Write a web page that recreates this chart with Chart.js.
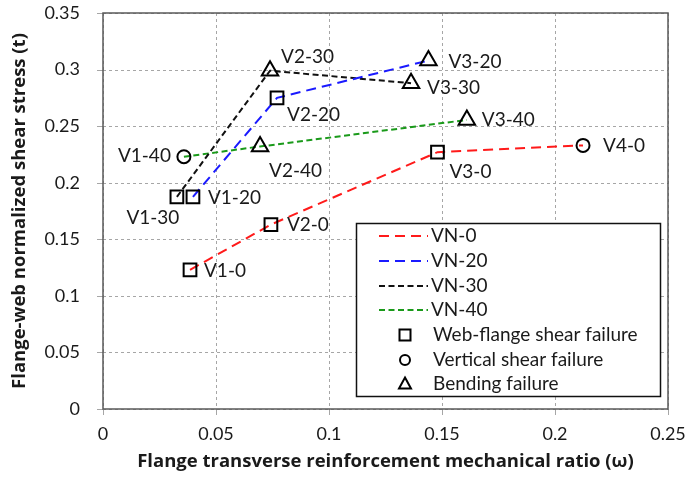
<!DOCTYPE html>
<html>
<head>
<meta charset="utf-8">
<script src="https://cdn.jsdelivr.net/npm/chart.js@4.4.0/dist/chart.umd.min.js"></script>
<style>
  body { margin: 0; background: #fff; }
  #wrap { width: 689px; height: 484px; }
</style>
</head>
<body>
<div id="wrap"><canvas id="mycanvas"></canvas></div>
<script>
// values
var seriesNames = ['VN-0', 'VN-20', 'VN-30', 'VN-40'];

var vn0_x = [0.0385, 0.0743, 0.1480, 0.2124];
var vn0_y = [0.123, 0.163, 0.227, 0.233];
var vn0_mode = ['web', 'web', 'web', 'vertical'];
var vn0_names = ['V1-0', 'V2-0', 'V3-0', 'V4-0'];

var vn20_x = [0.0398, 0.0770, 0.1440];
var vn20_y = [0.1875, 0.275, 0.308];
var vn20_mode = ['web', 'web', 'bending'];
var vn20_names = ['V1-20', 'V2-20', 'V3-20'];

var vn30_x = [0.0327, 0.0739, 0.1363];
var vn30_y = [0.1875, 0.299, 0.288];
var vn30_mode = ['web', 'bending', 'bending'];
var vn30_names = ['V1-30', 'V2-30', 'V3-30'];

var vn40_x = [0.0358, 0.0695, 0.1610];
var vn40_y = [0.223, 0.232, 0.2555];
var vn40_mode = ['vertical', 'bending', 'bending'];
var vn40_names = ['V1-40', 'V2-40', 'V3-40'];

var failureModes = ['web', 'vertical', 'bending'];
var failureLabels = ['Web-flange shear failure', 'Vertical shear failure', 'Bending failure'];

var xMin = 0, xMax = 0.25, xStep = 0.05;
var yMin = 0, yMax = 0.35, yStep = 0.05;

var FONT = 'Lato, "Open Sans", sans-serif';
var TITLE_FONT = '"Open Sans", Lato, sans-serif';

// looks
var lineColors = ['#ff1a1a', '#1a1aff', '#111111', '#1a9a1a'];
var lineDashes = [[10, 6], [10, 6], [6, 3.5], [6, 3.5]];
var markerStyle = { web: 'rect', vertical: 'circle', bending: 'triangle' };
var markerRadius = { web: 9, vertical: 6.5, bending: 9.5 };

// where each point's name sits relative to its marker
var labelPos = {
  'V1-0': [14, 1, 'left'],
  'V2-0': [16, 0, 'left'],
  'V3-0': [12, 20, 'left'],
  'V4-0': [20, 0, 'left'],
  'V1-20': [15, 1, 'left'],
  'V2-20': [10, 17, 'left'],
  'V3-20': [20, 1, 'left'],
  'V1-30': [-24, 21, 'center'],
  'V2-30': [11, -14, 'left'],
  'V3-30': [16, 5, 'left'],
  'V1-40': [-13, -1, 'right'],
  'V2-40': [9, 24, 'left'],
  'V3-40': [15, 0, 'left']
};

function toPoints(xs, ys) {
  var pts = [];
  for (var i = 0; i < xs.length; i++) pts.push({ x: xs[i], y: ys[i] });
  return pts;
}

function makeSet(idx, xs, ys, modes, names) {
  return {
    label: seriesNames[idx],
    data: toPoints(xs, ys),
    names: names,
    showLine: true,
    fill: false,
    borderColor: lineColors[idx],
    borderWidth: 2,
    borderDash: lineDashes[idx],
    pointStyle: modes.map(function (m) { return markerStyle[m]; }),
    pointRadius: modes.map(function (m) { return markerRadius[m]; }),
    pointBorderColor: '#000',
    pointBackgroundColor: 'rgba(0,0,0,0)',
    pointBorderWidth: 2
  };
}

// small marker for the legend box
function legendMarker(c, kind, x, y) {
  c.beginPath();
  if (kind === 'web') {
    c.rect(x - 5.5, y - 5.5, 11, 11);
  } else if (kind === 'vertical') {
    c.arc(x, y, 5, 0, Math.PI * 2);
  } else {
    c.moveTo(x, y - 6.5);
    c.lineTo(x + 6, y + 4.5);
    c.lineTo(x - 6, y + 4.5);
    c.closePath();
  }
  c.stroke();
}

// dashed grid + little tick marks, placed through the chart's scales
function drawGrid(chart) {
  var c = chart.ctx;
  var a = chart.chartArea;
  var sx = chart.scales.x, sy = chart.scales.y;
  c.save();
  c.strokeStyle = '#a6a6a6';
  c.lineWidth = 1;
  for (var i = 0; i < sx.ticks.length; i++) {
    var px = Math.round(sx.getPixelForValue(sx.ticks[i].value)) + 0.5;
    c.setLineDash([3, 3]);
    c.beginPath(); c.moveTo(px, a.top); c.lineTo(px, a.bottom); c.stroke();
    c.setLineDash([]);
    c.beginPath(); c.moveTo(px, a.bottom); c.lineTo(px, a.bottom + 6); c.stroke();
  }
  for (var j = 0; j < sy.ticks.length; j++) {
    var py = Math.round(sy.getPixelForValue(sy.ticks[j].value)) + 0.5;
    c.setLineDash([3, 3]);
    c.beginPath(); c.moveTo(a.left, py); c.lineTo(a.right, py); c.stroke();
    c.setLineDash([]);
    c.beginPath(); c.moveTo(a.left - 6, py); c.lineTo(a.left, py); c.stroke();
  }
  c.restore();
}

var gridLines = {
  id: 'gridLines',
  beforeDatasetsDraw: function (chart) { drawGrid(chart); }
};

var frameAndLabels = {
  id: 'frameAndLabels',
  afterDatasetsDraw: function (chart) {
    var c = chart.ctx;
    var a = chart.chartArea;
    c.save();
    // plot frame
    c.strokeStyle = '#595959';
    c.lineWidth = 1.5;
    c.setLineDash([]);
    c.strokeRect(a.left, a.top, a.right - a.left, a.bottom - a.top);

    // point names
    c.font = '19px ' + FONT;
    c.fillStyle = '#1a1a1a';
    c.textBaseline = 'middle';
    chart.data.datasets.forEach(function (ds, di) {
      var meta = chart.getDatasetMeta(di);
      meta.data.forEach(function (el, i) {
        var nm = ds.names[i];
        var p = labelPos[nm];
        c.textAlign = p[2];
        c.fillText(nm, el.x + p[0], el.y + p[1]);
      });
    });

    // legend box
    var bx = 356.5, by = 223.5, bw = 304, bh = 173;
    c.fillStyle = '#fff';
    c.fillRect(bx, by, bw, bh);
    c.strokeStyle = '#111';
    c.lineWidth = 1.5;
    c.strokeRect(bx, by, bw, bh);

    var rowY = [236, 261, 286, 310, 335, 360, 384];
    c.textAlign = 'left';
    for (var k = 0; k < seriesNames.length; k++) {
      c.beginPath();
      c.strokeStyle = lineColors[k];
      c.lineWidth = 2;
      c.setLineDash(lineDashes[k]);
      c.moveTo(379, rowY[k]);
      c.lineTo(428, rowY[k]);
      c.stroke();
      c.fillStyle = '#1a1a1a';
      c.fillText(seriesNames[k], 431, rowY[k]);
    }
    c.setLineDash([]);
    for (var j = 0; j < failureModes.length; j++) {
      c.strokeStyle = '#000';
      c.lineWidth = 2;
      legendMarker(c, failureModes[j], 405, rowY[4 + j]);
      c.fillStyle = '#1a1a1a';
      c.fillText(failureLabels[j], 433, rowY[4 + j]);
    }
    c.restore();
  }
};

function tickText(v) { return String(Math.round(v * 100) / 100); }

var ctx = document.getElementById('mycanvas');

var graph = new Chart(ctx, {
  type: 'scatter',
  data: {
    datasets: [
      makeSet(0, vn0_x, vn0_y, vn0_mode, vn0_names),
      makeSet(1, vn20_x, vn20_y, vn20_mode, vn20_names),
      makeSet(2, vn30_x, vn30_y, vn30_mode, vn30_names),
      makeSet(3, vn40_x, vn40_y, vn40_mode, vn40_names)
    ]
  },
  plugins: [gridLines, frameAndLabels],
  options: {
    responsive: true,
    maintainAspectRatio: false,
    animation: false,
    layout: { padding: { top: 13, right: 21, left: 0, bottom: 0 } },
    plugins: {
      legend: { display: false },
      tooltip: { enabled: false }
    },
    scales: {
      x: {
        type: 'linear',
        min: xMin,
        max: xMax,
        afterFit: function (s) { s.height = 75; s.paddingLeft = 0; s.paddingRight = 0; },
        ticks: {
          stepSize: xStep,
          color: '#1a1a1a',
          font: { family: FONT, size: 18 },
          padding: 8,
          maxRotation: 0,
          callback: tickText
        },
        grid: { display: false, drawTicks: true, tickLength: 6 },
        border: { display: false },
        title: {
          display: true,
          text: 'Flange transverse reinforcement mechanical ratio (\u03c9)',
          color: '#1a1a1a',
          font: { family: TITLE_FONT, size: 18.5, weight: 'bold' },
          padding: { top: 2, bottom: 11 }
        }
      },
      y: {
        type: 'linear',
        min: yMin,
        max: yMax,
        afterFit: function (s) { s.width = 103; s.paddingTop = 0; s.paddingBottom = 0; },
        ticks: {
          stepSize: yStep,
          color: '#1a1a1a',
          font: { family: FONT, size: 18 },
          padding: 17,
          callback: tickText
        },
        grid: { display: false, drawTicks: true, tickLength: 6 },
        border: { display: false },
        title: {
          display: true,
          text: 'Flange-web normalized shear stress (t)',
          color: '#1a1a1a',
          font: { family: TITLE_FONT, size: 18.5, weight: 'bold' },
          padding: { top: 9, bottom: 2 }
        }
      }
    }
  }
});
</script>
</body>
</html>
